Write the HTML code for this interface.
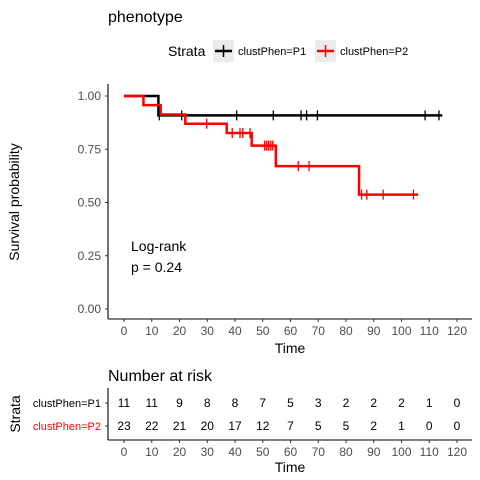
<!DOCTYPE html>
<html><head><meta charset="utf-8"><style>
html,body{margin:0;padding:0;background:#fff;}
svg{display:block;font-family:"Liberation Sans",Arial,sans-serif;}
</style></head><body>
<svg id="c" width="480" height="480" viewBox="0 0 480 480">
<text x="108" y="22" font-size="16" fill="#000">phenotype</text>
<g>
<text x="168" y="56" font-size="14">Strata</text>
<rect x="213" y="40" width="21" height="22" fill="#ebebeb"/>
<line x1="215" y1="51" x2="232" y2="51" stroke="#000" stroke-width="2.5"/><line x1="223.5" y1="45" x2="223.5" y2="57" stroke="#000" stroke-width="1.5"/>
<text x="238" y="55" font-size="11">clustPhen=P1</text>
<rect x="315" y="40" width="21" height="22" fill="#ebebeb"/>
<line x1="317" y1="51" x2="334" y2="51" stroke="#f00" stroke-width="2.5"/><line x1="325.5" y1="45" x2="325.5" y2="57" stroke="#f00" stroke-width="1.5"/>
<text x="340" y="55" font-size="11">clustPhen=P2</text>
</g>
<g id="main"></g>
<text transform="translate(19,202) rotate(-90)" text-anchor="middle" font-size="14">Survival probability</text>
<text x="290" y="353" text-anchor="middle" font-size="14">Time</text>
<text x="131" y="251" font-size="14">Log-rank</text>
<text x="131" y="272" font-size="14">p = 0.24</text>
<text x="108" y="381" font-size="16">Number at risk</text>
<text transform="translate(20,414) rotate(-90)" text-anchor="middle" font-size="14">Strata</text>
<text x="101" y="407" text-anchor="end" font-size="11">clustPhen=P1</text>
<text x="101" y="430" text-anchor="end" font-size="11" fill="#f00">clustPhen=P2</text>
<text x="290" y="472" text-anchor="middle" font-size="14">Time</text>
<g id="risk"></g>
</svg>
<script>
const xTicks=[0,10,20,30,40,50,60,70,80,90,100,110,120];
const yTicks=[0,0.25,0.5,0.75,1];
const yTickLabels=["0.00","0.25","0.50","0.75","1.00"];
const p1Times=[0,12.4,114.7];
const p1Surv=[1,0.909,0.909];
const p1Censor=[12.7,20.8,40.6,53.8,63.8,65.8,69.7,108.5,113.5];
const p2Times=[0,7,13.2,22.1,37,46,54.7,84.7,106];
const p2Surv=[1,0.957,0.913,0.87,0.826,0.767,0.671,0.537,0.537];
const p2Censor=[29.8,39,41.8,42.8,45.4,50.7,51.4,52.1,52.9,53.6,62.8,66.7,85.6,87.5,93.4,104.3];
const riskP1=[11,11,9,8,8,7,5,3,2,2,2,1,0];
const riskP2=[23,22,21,20,17,12,7,5,5,2,1,0,0];
const NS="http://www.w3.org/2000/svg";
const xs=t=>124+t*2.775;
const ys=s=>309-s*213;
function mk(tag,attrs,parent){const e=document.createElementNS(NS,tag);for(const k in attrs)e.setAttribute(k,attrs[k]);parent.appendChild(e);return e;}
const main=document.getElementById('main');
// axes
let ax=mk('line',{x1:108,y1:84,x2:108,y2:319,stroke:'#000','stroke-width':1.1},main);


ax=mk('line',{x1:108,y1:319,x2:472,y2:319,stroke:'#000','stroke-width':1.1},main);


yTicks.forEach((v,i)=>{
 mk('line',{x1:105,x2:108,y1:ys(v),y2:ys(v),stroke:'#333'},main);
 const t=mk('text',{x:101,y:ys(v)+4,'text-anchor':'end','font-size':12,fill:'#4d4d4d'},main);
 t.textContent=yTickLabels[i];
 
 
});
xTicks.forEach(v=>{
 mk('line',{x1:xs(v),x2:xs(v),y1:319,y2:322,stroke:'#333'},main);
 const t=mk('text',{x:xs(v),y:335,'text-anchor':'middle','font-size':12,fill:'#4d4d4d'},main);
 t.textContent=v;
 
 
});
function curve(times,surv,cens,color,name){
 let d='M'+xs(times[0])+','+ys(surv[0]);
 for(let i=1;i<times.length;i++){d+=' H'+xs(times[i])+' V'+ys(surv[i]);}
 const p=mk('path',{d:d,fill:'none',stroke:color,'stroke-width':2.5},main);
 
 
 cens.forEach(c=>{
  let s=surv[0];for(let i=0;i<times.length;i++){if(times[i]<=c)s=surv[i];}
  const m=mk('line',{x1:xs(c),x2:xs(c),y1:ys(s)-5,y2:ys(s)+5,stroke:color,'stroke-width':1.3},main);
  
  
 });
}
curve(p1Times,p1Surv,p1Censor,'#000','p1');
curve(p2Times,p2Surv,p2Censor,'#f00','p2');
// risk table
const risk=document.getElementById('risk');
mk('line',{x1:108,y1:388,x2:108,y2:440,stroke:'#000','stroke-width':1.1},risk);
mk('line',{x1:108,y1:440,x2:472,y2:440,stroke:'#000','stroke-width':1.1},risk);
mk('line',{x1:105,x2:108,y1:403,y2:403,stroke:'#333'},risk);
mk('line',{x1:105,x2:108,y1:426,y2:426,stroke:'#333'},risk);
xTicks.forEach((v,i)=>{
 mk('line',{x1:xs(v),x2:xs(v),y1:440,y2:443,stroke:'#333'},risk);
 let t=mk('text',{x:xs(v),y:456,'text-anchor':'middle','font-size':12,fill:'#4d4d4d'},risk);
 t.textContent=v;
 
 
 t=mk('text',{x:xs(v),y:407,'text-anchor':'middle','font-size':12,fill:'#000'},risk);
 t.textContent=riskP1[i];
 
 
 t=mk('text',{x:xs(v),y:430,'text-anchor':'middle','font-size':12,fill:'#000'},risk);
 t.textContent=riskP2[i];
 
 
});
</script>
</body></html>
